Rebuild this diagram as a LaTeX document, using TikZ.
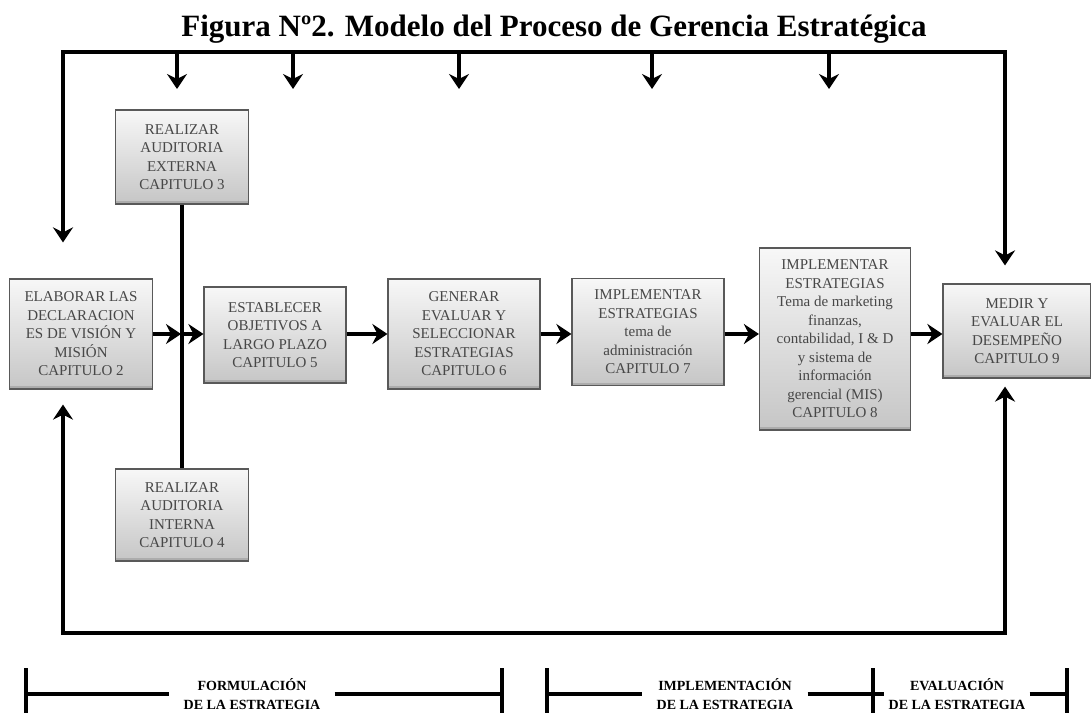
\documentclass[tikz,border=0pt]{standalone}
\usepackage{fontspec}
\setmainfont{Liberation Serif}
\usetikzlibrary{arrows.meta}

\tikzset{
  caja/.style={draw=gray!70!black, line width=1.2pt, top color=gray!6, bottom color=gray!45,
    text=black!72, align=center, font=\fontsize{15}{18.5}\selectfont, inner sep=2pt,
    path picture={\fill[gray!65] ([yshift=3pt]path picture bounding box.south west) rectangle (path picture bounding box.south east);}},
  linea/.style={line width=4pt},
  flecha/.style={line width=4pt, -{Stealth[length=15pt,width=20pt,inset=5pt]}},
  flechas/.style={line width=4pt, {Stealth[length=15pt,width=20pt,inset=5pt]}-{Stealth[length=15pt,width=20pt,inset=5pt]}},
  etapa/.style={font=\fontsize{14}{19}\selectfont\bfseries, align=center, inner xsep=14pt}
}

\begin{document}
\begin{tikzpicture}[x=1pt, y=-1pt]
  \useasboundingbox (0,0) rectangle (1091,712);
  \node[font=\fontsize{31}{36}\selectfont\bfseries, anchor=base] (titulo) at (554,36) {Figura Nº2. Modelo del Proceso de Gerencia Estratégica};

  % cajas del proceso
  \node[caja, minimum width=133, minimum height=94] (ext) at (182,157) {REALIZAR\\AUDITORIA\\EXTERNA\\CAPITULO 3};
  \node[caja, minimum width=133, minimum height=92] (int) at (182,515) {REALIZAR\\AUDITORIA\\INTERNA\\CAPITULO 4};
  \node[caja, minimum width=143, minimum height=110] (decl) at (81,334) {ELABORAR LAS\\DECLARACION\\ES DE VISIÓN Y\\MISIÓN\\CAPITULO 2};
  \node[caja, minimum width=142, minimum height=96] (obj) at (275,335) {ESTABLECER\\OBJETIVOS A\\LARGO PLAZO\\CAPITULO 5};
  \node[caja, minimum width=152, minimum height=110] (gen) at (464,334) {GENERAR\\EVALUAR Y\\SELECCIONAR\\ESTRATEGIAS\\CAPITULO 6};
  \node[caja, minimum width=152, minimum height=107] (impl7) at (648,332) {IMPLEMENTAR\\ESTRATEGIAS\\tema de\\administración\\CAPITULO 7};
  \node[caja, minimum width=151, minimum height=182] (impl8) at (835,339) {IMPLEMENTAR\\ESTRATEGIAS\\Tema de marketing\\finanzas,\\contabilidad, I \& D\\y sistema de\\información\\gerencial (MIS)\\CAPITULO 8};
  \node[caja, minimum width=148, minimum height=94] (medir) at (1017,331) {MEDIR Y\\EVALUAR EL\\DESEMPEÑO\\CAPITULO 9};

  % auditorias y flujo principal
  \coordinate (cruce) at (181,334);
  \draw[linea] (ext) -- (int);
  \draw[flecha] (decl.east |- cruce) -- (cruce);
  \draw[flecha] (cruce) -- (cruce -| obj.west);
  \draw[flecha] (obj.east |- gen) -- (gen.west);
  \draw[flecha] (gen.east) -- (impl7.west |- gen);
  \draw[flecha] (impl7.east |- gen) -- (impl8.west |- gen);
  \draw[flecha] (impl8.east |- gen) -- (medir.west |- gen);

  % retroalimentacion
  \coordinate (esqAI) at (63,52);
  \coordinate (esqAD) at (1005,52);
  \coordinate (esqBI) at (63,633);
  \coordinate (esqBD) at (1005,633);
  \draw[flechas, shorten <=36pt, shorten >=18pt] (esqAI |- decl.north) -- (esqAI) -- (esqAD) -- (esqAD |- medir.north);
  \draw[flechas, shorten <=15pt, shorten >=8pt] (esqBI |- decl.south) -- (esqBI) -- (esqBD) -- (esqBD |- medir.south);
  \foreach \x [count=\i] in {177,293,459,652,829} {
    \coordinate (baja\i) at (\x,89);
    \draw[flecha] (baja\i |- esqAI) -- (baja\i);
  }

  % etapas
  \node[etapa] (form) at (252,694) {FORMULACIÓN\\DE LA ESTRATEGIA};
  \node[etapa] (implem) at (725,694) {IMPLEMENTACIÓN\\DE LA ESTRATEGIA};
  \node[etapa, inner xsep=4pt] (evalua) at (957,694) {EVALUACIÓN\\DE LA ESTRATEGIA};
  \coordinate (f1) at (26,694);
  \coordinate (f2) at (502,694);
  \coordinate (i1) at (547,694);
  \coordinate (i2) at (873,694);
  \coordinate (e2) at (1067,694);
  \draw[linea] (f1) -- (form);
  \draw[linea] (form) -- (f2);
  \draw[linea] (i1) -- (implem);
  \draw[linea] (implem) -- (evalua);
  \draw[linea] (evalua) -- (e2);
  \foreach \b in {f1,f2,i1,i2,e2}
    \draw[linea] ([yshift=26pt]\b) -- ([yshift=-20pt]\b);
\end{tikzpicture}
\end{document}
